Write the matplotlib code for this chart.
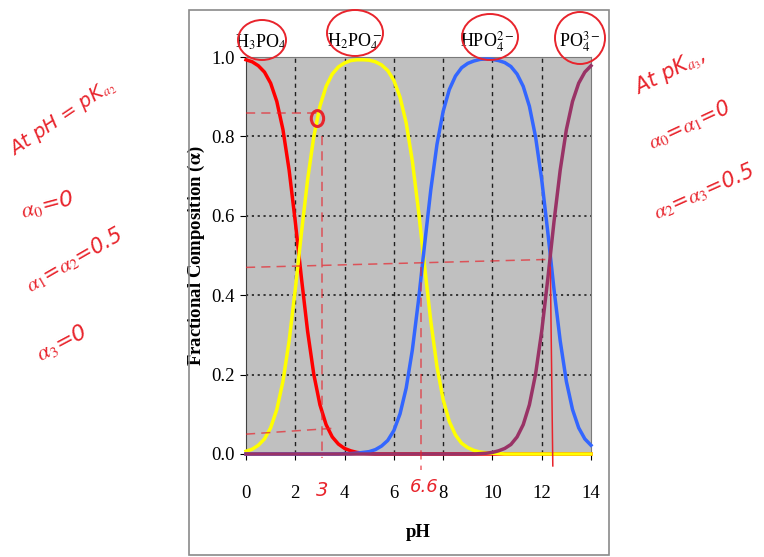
import numpy as np
import matplotlib
matplotlib.use("Agg")
import matplotlib.pyplot as plt
from matplotlib.patches import Ellipse, Rectangle

# fractional composition of phosphoric acid species vs pH (0.25 pH steps)
ph = np.arange(0, 14.25, 0.25)

h3po4 = [0.993, 0.988, 0.978, 0.962, 0.934, 0.888, 0.817, 0.715, 0.585, 0.443,
         0.309, 0.201, 0.124, 0.074, 0.043, 0.025, 0.014, 0.008, 0.004, 0.002,
         0.001] + [0.0] * 36

h2po4 = [0.007, 0.012, 0.022, 0.038, 0.066, 0.112, 0.183, 0.285, 0.415, 0.557,
         0.691, 0.799, 0.876, 0.926, 0.957, 0.975, 0.985, 0.991, 0.993, 0.993,
         0.992, 0.988, 0.980, 0.966, 0.941, 0.899, 0.834, 0.738, 0.613, 0.471,
         0.334, 0.220, 0.137, 0.082, 0.048, 0.027, 0.016, 0.009, 0.005, 0.003,
         0.002, 0.001] + [0.0] * 15

hpo4 = [0.0] * 16 + [0.001, 0.001, 0.002, 0.004, 0.006, 0.011, 0.020, 0.034,
                     0.059, 0.101, 0.166, 0.262, 0.387, 0.529, 0.666, 0.780,
                     0.863, 0.918, 0.952, 0.973, 0.984, 0.990, 0.994, 0.995,
                     0.994, 0.991, 0.986, 0.976, 0.957, 0.926, 0.876, 0.799,
                     0.691, 0.557, 0.414, 0.285, 0.183, 0.112, 0.066, 0.038,
                     0.022]

po4 = [0.0] * 38 + [0.001, 0.002, 0.004, 0.008, 0.014, 0.024, 0.043, 0.074,
                    0.124, 0.201, 0.309, 0.443, 0.586, 0.715, 0.817, 0.888,
                    0.934, 0.962, 0.978]

species = [r'H$_3$PO$_4$', r'H$_2$PO$_4^-$', r'HPO$_4^{2-}$', r'PO$_4^{3-}$']
species_x = [0.6, 4.4, 9.8, 13.55]

plt.rcParams['font.family'] = ['Liberation Serif', 'DejaVu Serif']
plt.rcParams['mathtext.fontset'] = 'stix'

W, H = 764, 557
fig = plt.figure(figsize=(W / 100, H / 100), dpi=100, facecolor='w')

def fx(x):
    return x / W

def fy(y):
    return 1 - y / H

# slide frame
fig.patches.append(Rectangle((fx(189), fy(555)), 420 / W, 545 / H,
                             transform=fig.transFigure, fill=False,
                             edgecolor='#8a8a8a', lw=1.2))

ax = fig.add_axes([fx(246), fy(454), 345 / W, 397 / H])
ax.set_facecolor('#c0c0c0')
ax.set_xlim(0, 14)
ax.set_ylim(0, 1)
ax.set_axisbelow(True)

for x in range(2, 14, 2):
    ax.axvline(x, color='#202020', lw=1, ls=(0, (3, 3)), zorder=1)
for y in [0.2, 0.4, 0.6, 0.8]:
    ax.axhline(y, color='#202020', lw=1.2, ls=(0, (1.3, 2.2)), zorder=1)

ax.plot(ph, h3po4, color='#ff0000', lw=2.5, clip_on=False, zorder=3)
ax.plot(ph, h2po4, color='#ffff00', lw=2.5, clip_on=False, zorder=3)
ax.plot(ph, hpo4, color='#3366ff', lw=2.5, clip_on=False, zorder=3)
ax.plot(ph, po4, color='#993366', lw=2.5, clip_on=False, zorder=3)

ax.set_xticks(range(0, 15, 2))
ax.set_yticks([0, 0.2, 0.4, 0.6, 0.8, 1.0])
ax.set_yticklabels(['0.0', '0.2', '0.4', '0.6', '0.8', '1.0'])
ax.tick_params(axis='x', direction='out', length=4, pad=18, labelsize=13.5)
ax.tick_params(axis='y', direction='out', length=4, pad=4, labelsize=13.5)
for s in ['top', 'right']:
    ax.spines[s].set_color('#7a7a7a')
ax.spines['left'].set_color('#404040')
ax.spines['bottom'].set_color('#404040')

ax.set_xlabel('pH', fontsize=13.5, fontweight='bold', labelpad=16)
ax.set_ylabel(r'Fractional Composition ($\mathbf{\alpha}$)', fontsize=13.5,
              fontweight='bold', labelpad=3)

for lab, x in zip(species, species_x):
    ax.text(x, 1.038, lab, ha='center', va='center', fontsize=13,
            clip_on=False)

# handwritten notes (red ink)
ink = '#e8242c'
hand = dict(color=ink, family='DejaVu Sans', fontstyle='italic',
            ha='center', va='center')
fig.text(fx(63), fy(118), r'At pH = pK$_{a_2}$', fontsize=14, rotation=34, **hand)
fig.text(fx(47), fy(205), r'$\alpha_0$=0', fontsize=16, rotation=15, **hand)
fig.text(fx(74), fy(260), r'$\alpha_1$=$\alpha_2$=0.5', fontsize=15, rotation=30, **hand)
fig.text(fx(62), fy(343), r'$\alpha_3$=0', fontsize=16, rotation=28, **hand)
fig.text(fx(670), fy(72), r'At pK$_{a_3}$,', fontsize=15, rotation=27, **hand)
fig.text(fx(689), fy(125), r'$\alpha_0$=$\alpha_1$=0', fontsize=15, rotation=25, **hand)
fig.text(fx(704), fy(192), r'$\alpha_2$=$\alpha_3$=0.5', fontsize=15, rotation=24, **hand)
fig.text(fx(322), fy(490), '3', fontsize=14, **hand)
fig.text(fx(424), fy(487), '6.6', fontsize=13, **hand)

for cx, cy, w, h in [(262, 40, 48, 40), (355, 33, 56, 46),
                     (490, 37, 56, 46), (580, 38, 50, 52)]:
    fig.patches.append(Ellipse((fx(cx), fy(cy)), w / W, h / H,
                               transform=fig.transFigure, fill=False,
                               edgecolor=ink, lw=1.4))

dash = dict(color=ink, lw=1.1, ls=(0, (6, 4)), alpha=0.7, clip_on=False, zorder=4)
ax.plot([0, 2.9], [0.86, 0.86], **dash)
ax.plot([0, 12.2], [0.47, 0.49], **dash)
ax.plot([0, 3.6], [0.05, 0.065], **dash)
ax.plot([3.1, 3.1], [0.8, -0.01], **dash)
ax.plot([7.1, 7.1], [0.47, -0.04], **dash)
ax.plot([12.35, 12.45], [0.47, -0.03], color=ink, lw=1.1, clip_on=False, zorder=4)
ax.add_patch(Ellipse((2.9, 0.845), 0.5, 0.04, fill=False, edgecolor=ink,
                     lw=2.2, zorder=5))

fig.savefig('out.png', dpi=100)
